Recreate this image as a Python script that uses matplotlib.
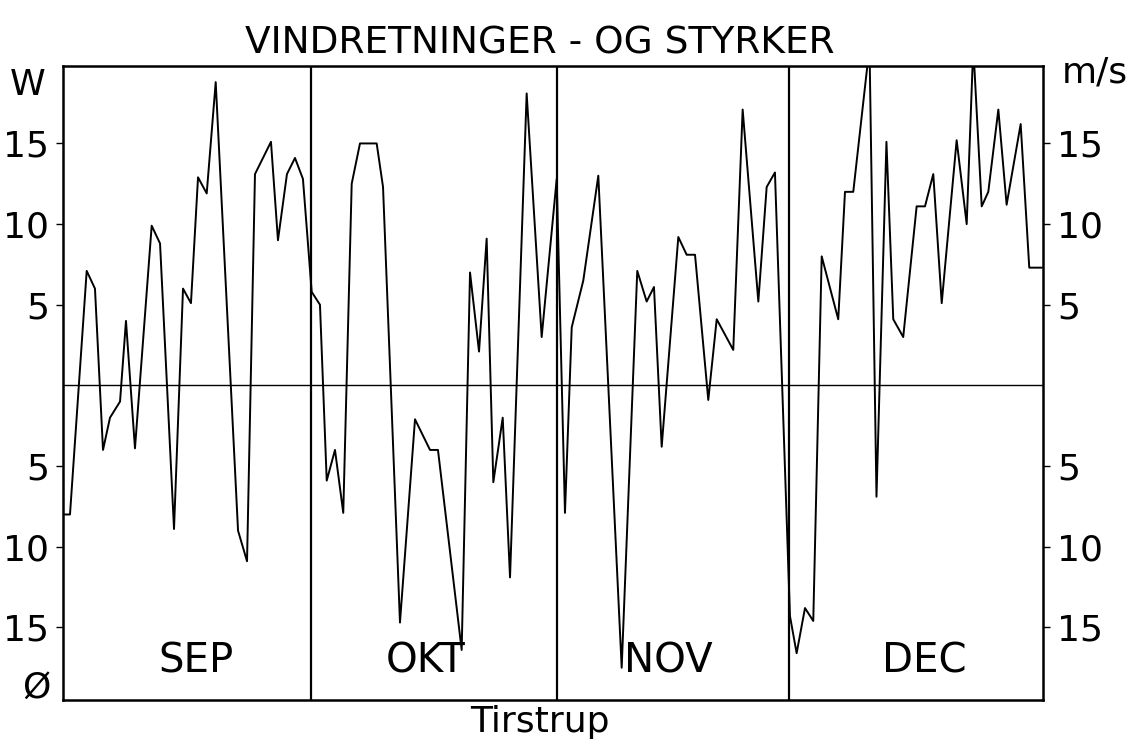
import matplotlib
matplotlib.use("Agg")
import matplotlib.pyplot as plt

# ----- DATA (dag fra 1. sep, vind; + = W-side, - = Ø-side) -----
days = [0.0, 0.87, 2.95, 3.98, 4.98, 5.85, 7.10, 7.84, 8.96, 11.04,
        12.08, 13.82, 14.94, 15.93, 16.81, 17.89, 19.01, 21.79, 22.91, 23.90,
        25.89, 26.76, 27.88, 28.88, 29.87,
        30.96, 31.99, 32.83, 33.86, 34.89, 35.94, 36.97, 39.05, 39.84, 41.95,
        43.82, 45.69, 46.68, 49.63, 50.67, 51.79, 52.74, 53.57, 54.74, 55.65,
        57.72, 59.59, 61.46,
        62.49, 63.33, 64.77, 66.64, 69.55, 71.49, 72.66, 73.57, 74.53, 76.60,
        77.64, 78.68, 80.33, 81.38, 83.44, 84.61, 86.56, 87.60, 88.63,
        90.50, 91.33, 92.37, 93.40, 94.45, 96.51, 97.35, 98.38, 100.40, 101.27,
        102.51, 103.36, 104.60, 106.27, 107.31, 108.34, 109.39, 111.25, 112.50, 113.32,
        114.37, 115.19, 116.44, 117.47, 119.22, 120.29, 121.83]

wind = [-8.0, -8.0, 7.1, 6.0, -4.0, -2.0, -1.0, 4.0, -3.9, 9.9,
        8.8, -8.9, 6.0, 5.1, 12.9, 11.9, 18.8, -9.0, -10.9, 13.1,
        15.1, 9.0, 13.1, 14.1, 12.8,
        5.8, 5.0, -5.9, -4.0, -7.9, 12.5, 15.0, 15.0, 12.3, -14.7,
        -2.1, -4.0, -4.0, -16.4, 7.0, 2.1, 9.1, -6.0, -2.0, -11.9,
        18.1, 3.0, 12.8,
        -7.9, 3.6, 6.5, 13.0, -17.5, 7.1, 5.2, 6.1, -3.8, 9.2,
        8.1, 8.1, -0.9, 4.1, 2.2, 17.1, 5.2, 12.3, 13.2,
        -14.3, -16.6, -13.8, -14.6, 8.0, 4.1, 12.0, 12.0, 21.0, -6.9,
        15.1, 4.1, 3.0, 11.1, 11.1, 13.1, 5.1, 15.2, 10.0, 21.0,
        11.1, 12.0, 17.1, 11.2, 16.2, 7.3, 7.3]

months = ["SEP", "OKT", "NOV", "DEC"]
month_mid = [16.6, 45.1, 75.3, 107.2]
month_edges = [30.87, 61.5, 90.4]

tick_vals = [-15, -10, -5, 5, 10, 15]
tick_txt = ["15", "10", "5", "5", "10", "15"]

# ----- PLOT -----
plt.rcParams["font.family"] = ["DejaVu Sans"]
fig = plt.figure(figsize=(11.3, 7.42), dpi=100)
ax = fig.add_axes([63 / 1130, 1 - 700 / 742, 980 / 1130, 634 / 742])

ax.plot(days, wind, color="black", lw=1.4)
ax.axhline(0, color="black", lw=1.0)
for e in month_edges:
    ax.axvline(e, color="black", lw=1.6)

for name, x in zip(months, month_mid):
    ax.text(x, -17.1, name, ha="center", va="center", fontsize=29)

ax.set_xlim(0, 122)
ax.set_ylim(-19.5, 19.8)
ax.set_xticks([])
ax.set_yticks(tick_vals)
ax.set_yticklabels(tick_txt)
ax.tick_params(axis="y", direction="out", length=5, width=1, labelsize=26,
               pad=5, right=True, labelright=True)
for s in ax.spines.values():
    s.set_linewidth(1.8)

# ----- TEXTS -----
fig.text(540 / 1130, 1 - 43 / 742, "VINDRETNINGER - OG STYRKER",
         ha="center", va="center", fontsize=27)
fig.text(28 / 1130, 1 - 85 / 742, "W", ha="center", va="center", fontsize=26)
fig.text(36 / 1130, 1 - 688 / 742, "Ø", ha="center", va="center", fontsize=26)
fig.text(1095 / 1130, 1 - 72 / 742, "m/s", ha="center", va="center", fontsize=26)
fig.text(540 / 1130, 1 - 722 / 742, "Tirstrup", ha="center", va="center", fontsize=26)

fig.savefig("out.png", dpi=100)
